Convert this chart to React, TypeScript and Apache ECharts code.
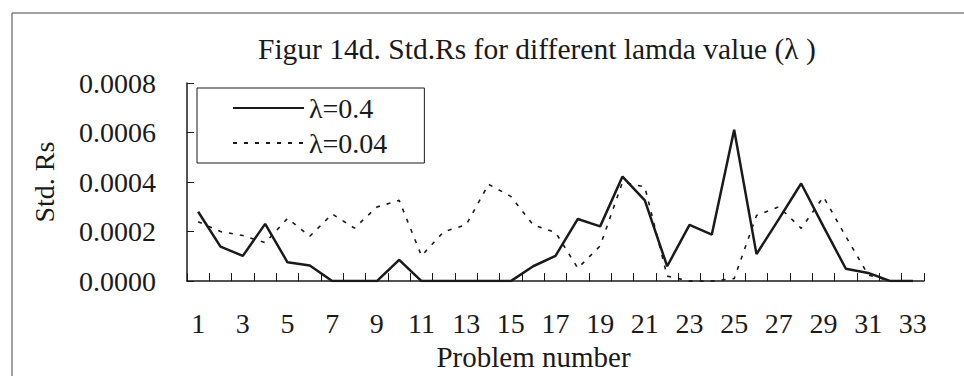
import React, { useEffect, useRef } from "react";
import * as echarts from "echarts";

// Problem numbers 1..33 on the category axis
const problems: string[] = [
  "1", "2", "3", "4", "5", "6", "7", "8", "9", "10", "11",
  "12", "13", "14", "15", "16", "17", "18", "19", "20", "21", "22",
  "23", "24", "25", "26", "27", "28", "29", "30", "31", "32", "33",
];

// Std. Rs for λ = 0.4 (solid line)
const stdRsLambda04: number[] = [
  0.00028, 0.000139, 0.000102, 0.000231, 0.000076, 0.000063, 0, 0, 0, 0.000086, 0,
  0, 0, 0, 0, 0.00006, 0.000102, 0.000251, 0.000221, 0.000422, 0.000326, 0.00006,
  0.000227, 0.000188, 0.000611, 0.000109, 0.00025, 0.000394, 0.00022, 0.00005, 0.000033, 0, 0,
];

// Std. Rs for λ = 0.04 (dotted line)
const stdRsLambda004: number[] = [
  0.00024, 0.0002, 0.000184, 0.000155, 0.000253, 0.000181, 0.000271, 0.000214, 0.000299, 0.000326, 0.000102,
  0.0002, 0.000227, 0.000391, 0.000342, 0.000227, 0.000197, 0.000052, 0.000142, 0.0004, 0.00038, 0.00002,
  0, 0, 0.00001, 0.000265, 0.0003, 0.000213, 0.00034, 0.00018, 0.000025, 0, 0,
];

const seriesNames: string[] = ["λ=0.4", "λ=0.04"];

const FONT = "Liberation Serif";
const INK = "#1a1a1a";

export default function App() {
  const ref = useRef<HTMLDivElement>(null);

  useEffect(() => {
    if (!ref.current) return;
    const chart = echarts.init(ref.current, undefined, { renderer: "svg" });
    const legendText = { fontFamily: FONT, fontSize: 28, color: INK };
    chart.setOption({
      animation: false,
      backgroundColor: "#ffffff",
      textStyle: { fontFamily: FONT, color: INK },
      title: {
        text: "Figur 14d. Std.Rs for different lamda value (λ )",
        left: 258,
        top: 34,
        padding: 0,
        textStyle: { fontFamily: FONT, fontSize: 29.5, fontWeight: "normal", color: INK },
      },
      graphic: [
        { type: "line", shape: { x1: 12, y1: 13, x2: 964, y2: 13 }, style: { stroke: "#444", lineWidth: 1 } },
        { type: "line", shape: { x1: 12, y1: 13, x2: 12, y2: 376 }, style: { stroke: "#444", lineWidth: 1 } },
      ],
      legend: {
        orient: "vertical",
        left: 197,
        top: 88,
        padding: [6, 37, 6, 35],
        itemWidth: 71,
        itemHeight: 28,
        itemGap: 7,
        backgroundColor: "#ffffff",
        borderColor: INK,
        borderWidth: 1,
        itemStyle: { color: "rgba(0,0,0,0)", borderColor: "rgba(0,0,0,0)", borderWidth: 0, opacity: 0 },
        data: seriesNames.map((name) => ({ name, textStyle: legendText })),
        textStyle: legendText,
      },
      grid: { left: 187, right: 40, top: 83, bottom: 90, containLabel: false },
      xAxis: {
        type: "category",
        data: problems,
        boundaryGap: true,
        name: "Problem number",
        nameLocation: "middle",
        nameGap: 54,
        nameTextStyle: { fontFamily: FONT, fontSize: 29, color: INK, padding: [0, 44, 0, 0] },
        axisLine: { show: true, lineStyle: { color: INK, width: 1.5 } },
        axisTick: { show: true, inside: true, length: 8, interval: 0, lineStyle: { color: INK, width: 1 } },
        axisLabel: { interval: 1, margin: 28, fontFamily: FONT, fontSize: 28, color: INK },
        splitLine: { show: false },
      },
      yAxis: {
        type: "value",
        min: 0,
        max: 0.0008,
        interval: 0.0002,
        name: "Std. Rs",
        nameLocation: "middle",
        nameGap: 129,
        nameRotate: 90,
        nameTextStyle: { fontFamily: FONT, fontSize: 28, color: INK },
        axisLine: { show: true, lineStyle: { color: INK, width: 1.5 } },
        axisTick: { show: true, inside: true, length: 7, lineStyle: { color: INK, width: 1 } },
        axisLabel: {
          margin: 31,
          fontFamily: FONT,
          fontSize: 28,
          color: INK,
          formatter: (v: number) => v.toFixed(4),
        },
        splitLine: { show: false },
      },
      series: [
        {
          name: seriesNames[0],
          type: "line",
          data: stdRsLambda04,
          symbol: "none",
          showSymbol: false,
          lineStyle: { color: INK, width: 2.5, type: "solid" },
          itemStyle: { color: INK },
          z: 3,
        },
        {
          name: seriesNames[1],
          type: "line",
          data: stdRsLambda004,
          symbol: "none",
          showSymbol: false,
          lineStyle: { color: INK, width: 1.6, type: [4, 7] },
          itemStyle: { color: INK },
          z: 2,
        },
      ],
    });
    return () => chart.dispose();
  }, []);

  return (
    <div
      ref={ref}
      style={{ position: "fixed", left: 0, top: 0, width: 964, height: 376, background: "#fff" }}
    />
  );
}
